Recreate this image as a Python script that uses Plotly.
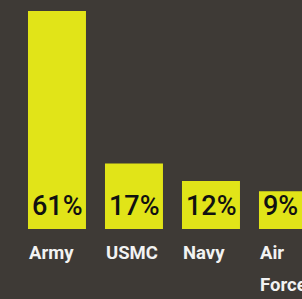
import plotly.graph_objects as go

categories = ["Army", "USMC", "Navy", "Air Force"]
values = [61, 17, 12, 9]
value_labels = ["61%", "17%", "12%", "9%"]

BG = "#3e3a36"
BAR = "#e1e418"
BASE = -1.87
BAR_W = 0.753
FONT = "Roboto, Liberation Sans Narrow, sans-serif"
LINE_GAP = 32

fig = go.Figure()
fig.add_trace(go.Bar(
    x=categories, y=[v - BASE for v in values], base=BASE,
    width=BAR_W, marker=dict(color=BAR, line=dict(width=0)),
    hoverinfo="skip",
))

for i, (c, lab) in enumerate(zip(categories, value_labels)):
    fig.add_annotation(
        x=i - BAR_W / 2, y=BASE, xref="x", yref="y",
        text=lab, showarrow=False, xanchor="left", yanchor="bottom",
        xshift=2, yshift=5,
        font=dict(family=FONT, size=27, color="#111111", weight=500),
    )
    for k, word in enumerate(c.split(" ")):
        fig.add_annotation(
            x=i - BAR_W / 2, y=BASE, xref="x", yref="y",
            text="<b>" + word + "</b>", showarrow=False,
            xanchor="left", yanchor="top", align="left",
            xshift=-1, yshift=-11 - k * LINE_GAP,
            font=dict(family=FONT, size=18.5, color="#f2f2f2"),
        )

fig.update_layout(
    width=302, height=299,
    margin=dict(l=0, r=0, t=0, b=0),
    paper_bgcolor=BG, plot_bgcolor=BG,
    showlegend=False,
    xaxis=dict(range=[-0.74, 3.182], visible=False, fixedrange=True),
    yaxis=dict(range=[-22.07, 64.2], visible=False, fixedrange=True),
)

fig.write_html(
    "out.html",
    config={"displayModeBar": False},
    post_script="document.body.style.margin='0';document.body.style.overflow='hidden';",
)
